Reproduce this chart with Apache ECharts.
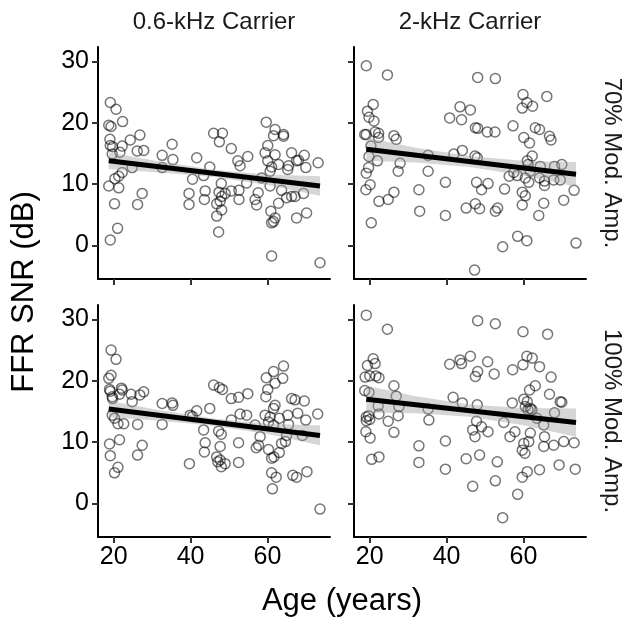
<!DOCTYPE html>
<html><head><meta charset="utf-8">
<script src="https://cdn.jsdelivr.net/npm/echarts@6/dist/echarts.min.js"></script>
<style>html,body{margin:0;padding:0;background:#fff}#c{width:628px;height:622px}</style>
</head><body><div id="c"></div>
<script>
// Column / row labels
const colLabels = ["0.6-kHz Carrier", "2-kHz Carrier"];
const rowLabels = ["70% Mod. Amp.", "100% Mod. Amp."];
const xTicks = [20, 40, 60];
const yTicks = [0, 10, 20, 30];

// Panel A: 0.6 kHz, 70%
const ageA = [19.1,20.6,18.7,19.3,22.3,19.0,19.1,19.7,22.2,21.6,19.6,24.3,26.8,26.1,27.8,24.8,22.2,21.3,20.3,18.7,21.3,20.2,27.4,26.2,21.0,19.1,35.2,32.6,32.6,35.4,41.6,40.5,39.6,39.6,46.0,48.3,47.5,50.6,45.0,43.4,43.8,43.6,48.0,47.4,49.0,50.6,46.8,47.7,48.1,46.8,47.3,52.3,52.9,54.9,52.6,52.6,54.6,56.8,57.2,57.6,58.5,59.7,62.0,61.6,64.2,64.2,60.1,59.4,62.0,60.1,61.1,62.9,60.7,60.7,63.7,65.0,62.9,60.9,62.0,61.1,61.6,61.1,66.3,65.3,65.5,67.6,68.1,69.6,70.0,66.3,67.2,69.4,67.6,70.2,73.2,73.7,48.1];
const snrA = [23.3,22.2,19.6,19.4,20.2,17.3,16.3,16.1,16.2,15.2,14.9,17.2,18.0,15.4,15.5,12.7,11.9,11.3,10.9,9.7,9.4,6.8,8.5,6.7,2.8,0.9,16.5,14.7,12.7,14.0,14.3,10.8,8.5,6.7,18.3,18.3,16.9,15.8,12.8,11.4,8.9,7.5,10.1,8.7,8.5,8.9,6.8,7.2,5.8,4.8,2.2,13.8,13.0,14.5,9.0,7.5,10.2,7.5,6.6,8.6,11.0,20.1,18.9,17.9,18.1,17.8,16.3,15.1,14.8,13.8,12.8,13.2,12.1,9.7,9.0,7.8,6.9,5.6,4.5,3.7,3.9,-1.7,15.1,12.4,13.0,13.8,13.9,14.7,12.7,8.0,8.0,8.5,4.5,5.3,13.5,-2.8,8.0];

// Panel B: 2 kHz, 70%
const ageB = [19.1,24.6,20.9,19.4,19.8,21.1,18.7,19.1,21.4,22.3,22.3,26.3,26.9,20.3,19.8,22.0,19.7,19.1,19.0,20.1,27.9,27.4,26.3,24.8,22.4,20.4,35.2,35.2,32.8,33.0,39.7,39.7,40.8,43.5,43.9,46.2,48.1,52.7,47.5,48.1,50.6,52.6,44.1,41.9,47.4,48.0,47.8,49.1,50.8,45.1,47.5,48.6,52.7,53.3,54.6,47.3,55.1,56.3,57.3,59.9,59.7,60.9,62.4,66.1,60.1,61.6,63.1,64.2,66.8,67.2,62.3,61.0,61.2,61.8,57.5,58.4,60.5,61.4,59.7,60.5,59.7,64.4,65.5,65.5,64.2,67.9,68.1,70.0,69.6,65.3,64.0,70.5,73.2,73.7,58.5,60.9];
const snrB = [29.3,27.8,23.0,21.9,20.9,20.3,18.1,18.1,18.5,18.3,17.6,17.9,17.3,16.2,14.5,13.8,12.7,11.8,9.1,9.9,13.4,12.1,8.7,7.5,7.2,3.7,14.7,12.1,9.1,5.6,10.3,4.9,20.8,22.6,20.5,22.1,27.4,27.2,19.2,19.1,18.5,18.5,15.5,14.9,14.6,14.3,10.3,9.1,10.1,6.1,6.8,6.0,5.6,6.1,-0.2,-4.0,9.2,11.3,19.5,24.6,22.4,23.3,22.7,24.3,17.6,16.7,19.2,18.9,17.8,17.2,14.6,13.8,13.2,12.1,11.9,11.4,11.0,10.3,8.7,8.1,6.6,12.9,10.5,9.8,11.0,10.7,12.9,13.2,10.7,6.9,4.9,7.4,9.0,0.4,1.5,0.8];

// Panel C: 0.6 kHz, 100%
const ageC = [19.3,20.6,19.3,18.7,18.9,19.1,19.6,19.7,22.0,22.2,21.5,24.5,24.8,26.8,27.8,19.6,20.2,21.1,22.6,26.2,18.9,21.5,19.1,21.1,20.2,27.4,26.2,32.6,35.2,35.4,32.6,39.7,39.9,40.5,41.6,45.0,43.4,43.8,43.6,46.0,47.5,48.3,50.6,52.5,54.9,47.3,48.0,47.7,46.8,47.1,47.7,49.0,48.0,50.6,52.9,54.6,52.5,52.5,56.8,58.1,57.7,57.1,59.7,61.6,64.2,64.0,62.0,60.1,59.6,62.0,61.6,59.4,60.7,63.1,60.3,61.6,60.3,61.1,61.7,63.1,63.7,64.7,61.1,62.3,61.3,66.3,67.2,69.6,67.9,70.0,65.3,65.5,65.0,69.1,66.6,67.6,70.3,73.1,73.7];
const snrC = [25.0,23.5,20.9,20.4,18.6,18.3,17.4,17.1,18.8,18.5,17.8,17.8,16.6,17.7,18.2,14.4,13.9,13.0,13.0,12.9,9.7,10.4,7.8,5.9,5.0,9.5,7.9,16.3,16.4,16.0,12.9,6.5,14.4,14.2,15.1,15.5,12.0,9.9,8.4,19.3,18.9,18.6,17.1,17.3,17.9,11.8,11.3,9.3,7.6,6.8,7.1,6.5,6.0,13.6,14.6,14.4,9.9,6.7,12.8,10.9,9.5,9.1,20.5,21.5,22.4,20.4,19.6,18.6,17.4,16.0,15.5,14.4,14.1,13.9,13.3,12.8,8.8,7.4,7.6,8.3,9.8,10.1,5.0,4.3,2.4,17.1,16.9,16.7,14.7,13.6,14.4,12.9,11.1,11.1,4.6,4.3,5.2,14.6,-0.9];

// Panel D: 2 kHz, 100%
const ageD = [19.1,24.6,20.9,19.4,21.4,18.8,20.0,21.6,22.4,18.7,19.8,26.3,26.9,22.2,22.4,27.6,27.4,19.1,19.7,20.0,19.1,19.0,20.1,24.8,26.3,20.5,22.4,35.2,35.4,32.8,32.8,39.7,39.7,40.8,43.5,43.9,46.2,48.1,52.7,48.1,47.5,50.7,52.4,41.7,44.1,48.0,47.8,46.8,47.4,49.1,50.8,48.6,45.1,46.8,53.2,52.7,54.9,54.6,57.1,56.5,57.8,57.2,59.9,59.9,60.9,62.3,64.2,66.3,63.1,61.6,67.2,66.8,69.6,70.0,60.1,61.0,60.5,61.8,61.2,62.2,63.5,65.3,65.5,68.1,61.8,61.4,60.1,59.7,60.4,61.0,59.7,58.5,64.2,65.3,67.9,70.5,73.2,69.3,73.5];
const snrD = [30.7,28.4,23.6,22.5,22.8,20.6,20.8,20.8,20.5,18.4,18.1,19.2,17.5,15.9,14.6,15.8,14.3,14.1,14.3,13.7,13.5,11.7,10.7,13.4,11.6,7.2,7.6,15.4,13.6,9.4,6.7,10.2,5.6,22.7,23.4,22.8,24.0,29.8,29.3,21.5,20.7,23.1,21.1,17.3,16.4,16.1,13.4,12.0,10.9,12.5,11.7,7.9,7.3,2.8,6.8,3.7,13.2,-2.3,16.4,10.9,11.7,21.8,28.0,22.6,24.0,23.7,22.3,27.6,19.2,18.5,20.6,17.8,16.6,16.5,17.0,16.6,15.8,15.5,15.3,15.3,13.9,12.8,10.9,14.8,11.5,10.1,9.8,8.7,8.2,5.2,4.3,1.5,5.5,9.3,9.5,10.1,9.9,6.3,5.6];

// Fitted lines and 95% confidence band
const fitXA = [18.7, 73.7], fitYA = [13.8, 9.7];
const fitXB = [19.1, 73.7], fitYB = [15.7, 11.6];
const fitXC = [18.7, 73.7], fitYC = [15.4, 11.1];
const fitXD = [19.1, 73.7], fitYD = [17.0, 13.2];
const bandXA = [18.7, 32, 46, 60, 73.7], bandHiA = [15.15, 13.7, 12.37, 11.57, 11.3], bandLoA = [12.45, 11.9, 11.17, 9.87, 8.1];
const bandXB = [19.1, 32, 46, 60, 73.7], bandHiB = [17.6, 15.93, 14.58, 13.83, 13.6], bandLoB = [13.8, 13.53, 12.78, 11.43, 9.6];
const bandXC = [18.7, 32, 46, 60, 73.7], bandHiC = [16.75, 15.21, 13.87, 13.02, 12.7], bandLoC = [14.05, 13.51, 12.67, 11.32, 9.5];
const bandXD = [19.1, 32, 46, 60, 73.7], bandHiD = [19.2, 17.5, 16.13, 15.55, 15.5], bandLoD = [14.8, 14.7, 14.13, 12.75, 10.9];

const FONT = "Liberation Sans, Arial, Helvetica, sans-serif";
const panels = [
  {age: ageA, snr: snrA, fx: fitXA, fy: fitYA, bx: bandXA, hi: bandHiA, lo: bandLoA},
  {age: ageB, snr: snrB, fx: fitXB, fy: fitYB, bx: bandXB, hi: bandHiB, lo: bandLoB},
  {age: ageC, snr: snrC, fx: fitXC, fy: fitYC, bx: bandXC, hi: bandHiC, lo: bandLoC},
  {age: ageD, snr: snrD, fx: fitXD, fy: fitYD, bx: bandXD, hi: bandHiD, lo: bandLoD}
];
const L = [98, 354], T = [47, 305], W = 232, H = 232;

const grids = [], xAxes = [], yAxes = [], series = [];
panels.forEach((p, i) => {
  const col = i % 2, row = Math.floor(i / 2);
  grids.push({left: L[col], top: T[row], width: W, height: H, containLabel: false});
  xAxes.push({
    type: 'value', gridIndex: i, min: 15.9, max: 76.3,
    splitLine: {show: false},
    axisLine: {show: true, onZero: false, lineStyle: {color: '#000', width: 2}},
    axisTick: {show: true, length: 6, customValues: xTicks, lineStyle: {color: '#333', width: 2}},
    axisLabel: {show: row === 1, customValues: xTicks, color: '#000', fontSize: 25, fontFamily: FONT, margin: 8}
  });
  yAxes.push({
    type: 'value', gridIndex: i, min: -5.45, max: 32.35,
    splitLine: {show: false},
    axisLine: {show: true, onZero: false, lineStyle: {color: '#000', width: 2}},
    axisTick: {show: true, length: 6, customValues: yTicks, lineStyle: {color: '#333', width: 2}},
    axisLabel: {show: col === 0, customValues: yTicks, color: '#000', fontSize: 25, fontFamily: FONT, margin: 9}
  });
  series.push({
    type: 'scatter', xAxisIndex: i, yAxisIndex: i, z: 2,
    data: p.age.map((a, k) => [a, p.snr[k]]),
    symbol: 'circle', symbolSize: 10,
    itemStyle: {color: 'rgba(0,0,0,0)', borderColor: 'rgba(0,0,0,0.68)', borderWidth: 1.5},
    silent: true, animation: false
  });
  series.push({
    type: 'custom', xAxisIndex: i, yAxisIndex: i, z: 3, silent: true, animation: false,
    data: [[p.bx[0], p.hi[0]]],
    renderItem: (params, api) => {
      const pts = [];
      for (let k = 0; k < p.bx.length; k++) pts.push(api.coord([p.bx[k], p.hi[k]]));
      for (let k = p.bx.length - 1; k >= 0; k--) pts.push(api.coord([p.bx[k], p.lo[k]]));
      return {type: 'polygon', shape: {points: pts}, style: {fill: 'rgba(153,153,153,0.4)'}};
    }
  });
  series.push({
    type: 'line', xAxisIndex: i, yAxisIndex: i, z: 4, silent: true, animation: false,
    data: p.fx.map((x, k) => [x, p.fy[k]]),
    symbol: 'none', lineStyle: {color: '#000', width: 5}
  });
});

const txt = (o) => Object.assign({type: 'text', silent: true}, o);
const graphics = [
  txt({x: L[0] + W / 2, y: 22, style: {text: colLabels[0], font: '24px ' + FONT, fill: '#1a1a1a', align: 'center', verticalAlign: 'middle'}}),
  txt({x: L[1] + W / 2, y: 22, style: {text: colLabels[1], font: '24px ' + FONT, fill: '#1a1a1a', align: 'center', verticalAlign: 'middle'}}),
  txt({x: 612, y: T[0] + H / 2, rotation: -Math.PI / 2, style: {text: rowLabels[0], font: '24px ' + FONT, fill: '#1a1a1a', align: 'center', verticalAlign: 'middle'}}),
  txt({x: 612, y: T[1] + H / 2, rotation: -Math.PI / 2, style: {text: rowLabels[1], font: '24px ' + FONT, fill: '#1a1a1a', align: 'center', verticalAlign: 'middle'}}),
  txt({x: 24, y: (T[0] + T[1] + H) / 2, rotation: Math.PI / 2, style: {text: 'FFR SNR (dB)', font: '31px ' + FONT, fill: '#000', align: 'center', verticalAlign: 'middle'}}),
  txt({x: (L[0] + L[1] + W) / 2, y: 601, style: {text: 'Age (years)', font: '31px ' + FONT, fill: '#000', align: 'center', verticalAlign: 'middle'}})
];

const chart = echarts.init(document.getElementById('c'), null, {renderer: 'canvas'});
chart.setOption({
  animation: false,
  backgroundColor: '#fff',
  grid: grids, xAxis: xAxes, yAxis: yAxes, series: series, graphic: graphics
});
</script></body></html>
